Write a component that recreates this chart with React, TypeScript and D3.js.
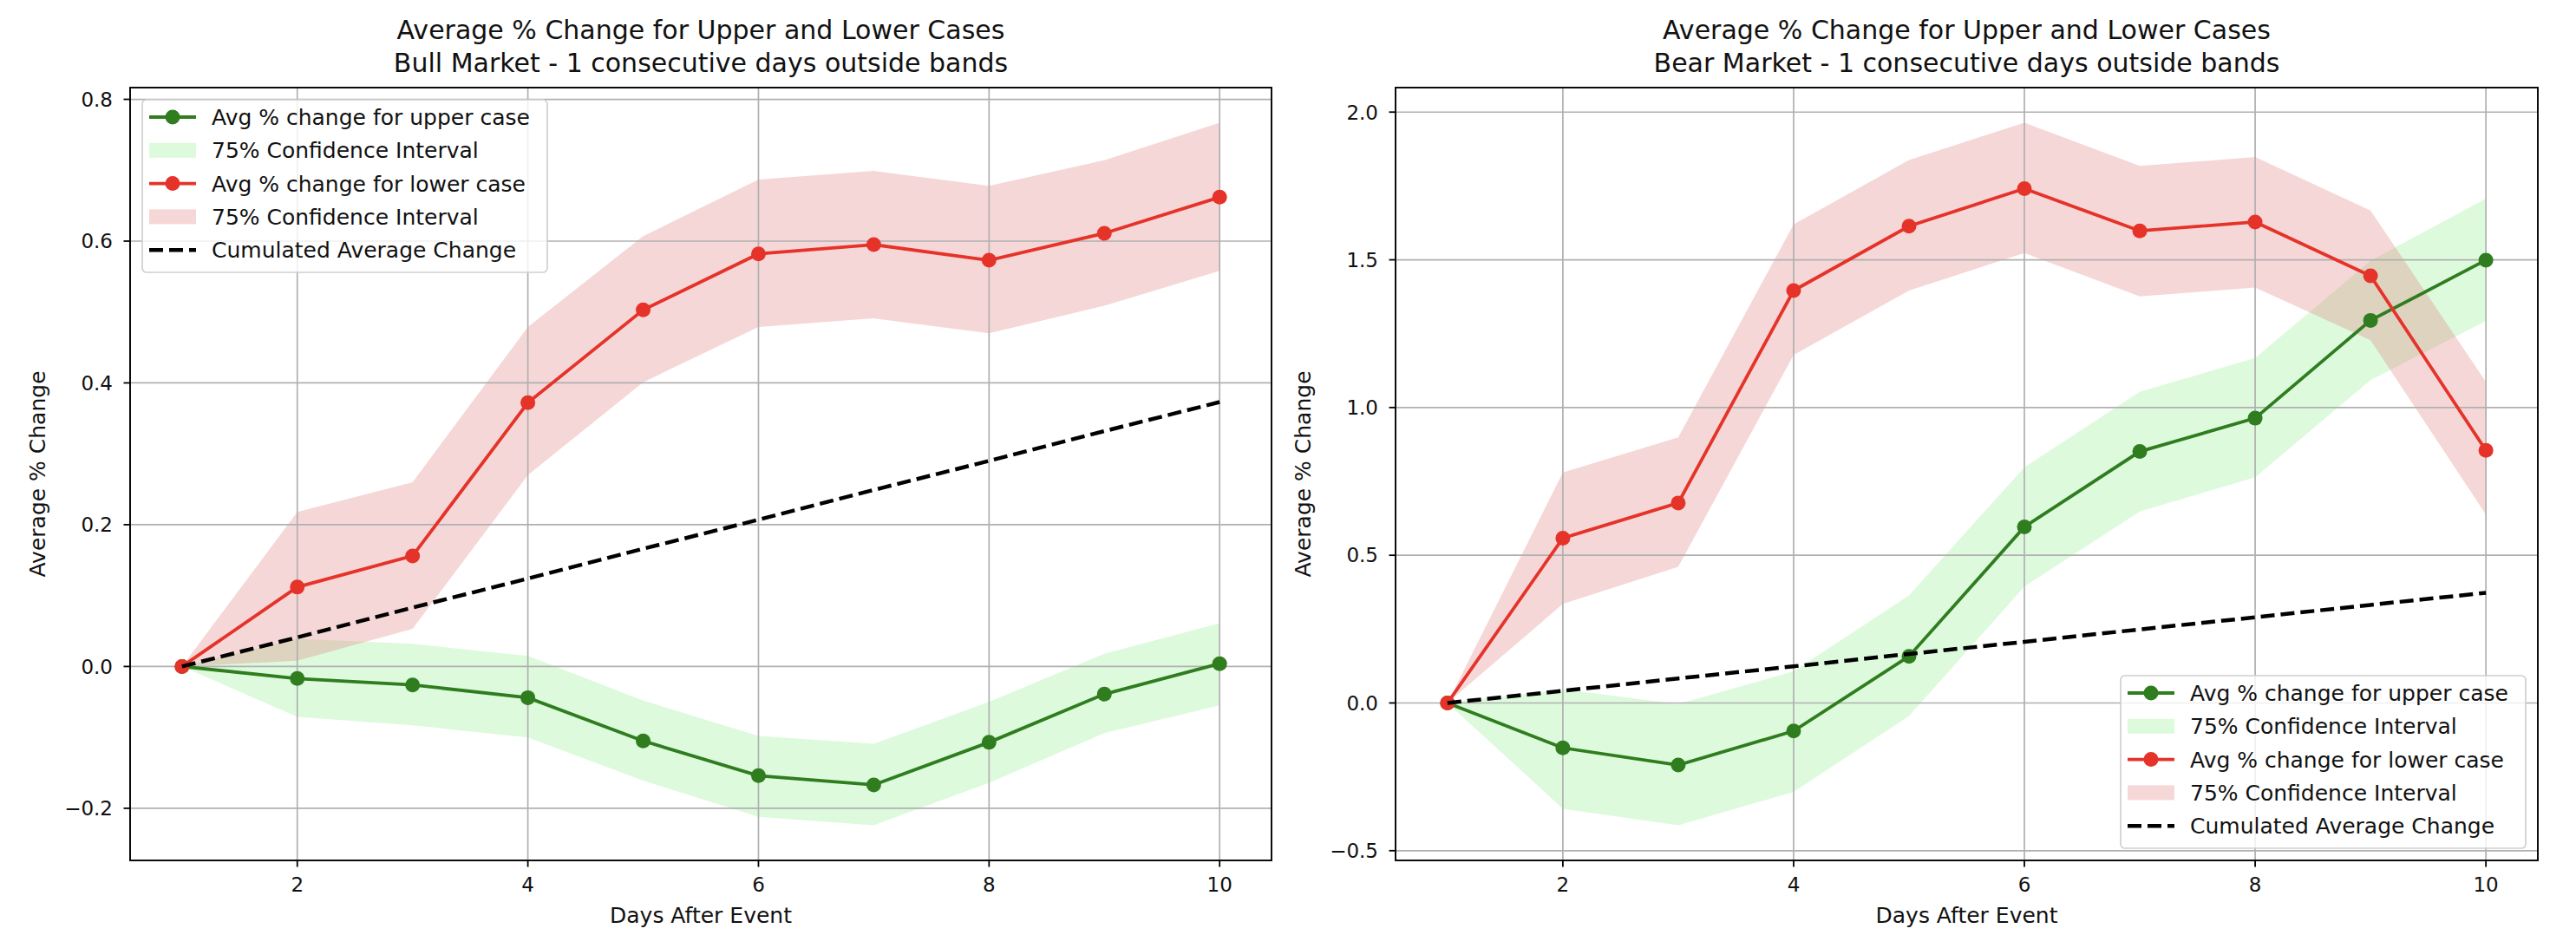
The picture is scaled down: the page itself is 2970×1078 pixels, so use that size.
import { useEffect, useRef } from "react";
import * as d3 from "d3";

// days after the event
const days = [1, 2, 3, 4, 5, 6, 7, 8, 9, 10];

// Bull market
const bullUpperMean = [0, -0.017, -0.026, -0.044, -0.105, -0.154, -0.167, -0.107, -0.039, 0.004];
const bullUpperLo = [0, -0.071, -0.083, -0.1, -0.161, -0.212, -0.224, -0.164, -0.094, -0.055];
const bullUpperHi = [0, 0.039, 0.032, 0.015, -0.048, -0.098, -0.109, -0.05, 0.018, 0.061];
const bullLowerMean = [0, 0.112, 0.156, 0.372, 0.503, 0.582, 0.595, 0.573, 0.611, 0.662];
const bullLowerLo = [0, 0.008, 0.053, 0.27, 0.401, 0.479, 0.491, 0.47, 0.509, 0.558];
const bullLowerHi = [0, 0.218, 0.26, 0.479, 0.607, 0.687, 0.699, 0.678, 0.714, 0.767];

// Bear market
const bearUpperMean = [0, -0.152, -0.21, -0.095, 0.158, 0.596, 0.851, 0.964, 1.295, 1.499];
const bearUpperLo = [0, -0.358, -0.414, -0.301, -0.044, 0.394, 0.648, 0.764, 1.093, 1.293];
const bearUpperHi = [0, 0.046, -0.004, 0.107, 0.364, 0.798, 1.053, 1.168, 1.497, 1.707];
const bearLowerMean = [0, 0.558, 0.677, 1.396, 1.614, 1.741, 1.598, 1.628, 1.446, 0.855];
const bearLowerLo = [0, 0.335, 0.461, 1.178, 1.396, 1.523, 1.376, 1.406, 1.228, 0.638];
const bearLowerHi = [0, 0.78, 0.899, 1.62, 1.838, 1.964, 1.818, 1.848, 1.667, 1.087];

// same reference line on both panels
const cumAvg = [0, 0.041, 0.083, 0.124, 0.166, 0.207, 0.249, 0.29, 0.332, 0.373];

const dayTicks = [2, 4, 6, 8, 10];
const bullTicks = [-0.2, 0, 0.2, 0.4, 0.6, 0.8];
const bearTicks = [-0.5, 0, 0.5, 1, 1.5, 2];

const legendLabels = [
  "Avg % change for upper case",
  "75% Confidence Interval",
  "Avg % change for lower case",
  "75% Confidence Interval",
  "Cumulated Average Change",
];

const GREEN = "#2f7d1f";
const RED = "#e5332a";
const GREEN_FILL = "#90ee90";
const RED_FILL = "#e07b7b";
const FONT = "DejaVu Sans";
const INK = "#111";

type Panel = {
  left: number;
  right: number;
  top: number;
  bottom: number;
  title: string[];
  upper: number[][];
  lower: number[][];
  yTicks: number[];
  legendAt: "ul" | "lr";
};

function drawPanel(svg: d3.Selection<SVGSVGElement, unknown, null, undefined>, p: Panel) {
  const g = svg.append("g");
  const all = [...p.upper.flat(), ...p.lower.flat(), ...cumAvg];
  const [mn, mx] = d3.extent(all) as [number, number];
  const pad = (mx - mn) * 0.05;
  const x = d3.scaleLinear().domain([0.55, 10.45]).range([p.left, p.right]);
  const y = d3.scaleLinear().domain([mn - pad, mx + pad]).range([p.bottom, p.top]);

  const clipId = `clip-${p.left}`;
  g.append("clipPath").attr("id", clipId)
    .append("rect").attr("x", p.left).attr("y", p.top)
    .attr("width", p.right - p.left).attr("height", p.bottom - p.top);
  const plot = g.append("g").attr("clip-path", `url(#${clipId})`);

  const area = (lo: number[], hi: number[]) =>
    d3.area<number>().x((d) => x(d)).y0((_, i) => y(lo[i])).y1((_, i) => y(hi[i]))(days);

  // bands
  plot.append("path").attr("d", area(p.upper[1], p.upper[2])!)
    .attr("fill", GREEN_FILL).attr("fill-opacity", 0.3);
  plot.append("path").attr("d", area(p.lower[1], p.lower[2])!)
    .attr("fill", RED_FILL).attr("fill-opacity", 0.3);

  // grid
  plot.selectAll(".gx").data(dayTicks).join("line")
    .attr("x1", (d) => x(d)).attr("x2", (d) => x(d))
    .attr("y1", p.top).attr("y2", p.bottom)
    .attr("stroke", "#b0b0b0").attr("stroke-width", 1.7);
  plot.selectAll(".gy").data(p.yTicks).join("line")
    .attr("y1", (d) => y(d)).attr("y2", (d) => y(d))
    .attr("x1", p.left).attr("x2", p.right)
    .attr("stroke", "#b0b0b0").attr("stroke-width", 1.7);

  const line = (vals: number[]) =>
    d3.line<number>().x((d) => x(d)).y((_, i) => y(vals[i]))(days);

  const series = (vals: number[], color: string) => {
    plot.append("path").attr("d", line(vals)!).attr("fill", "none")
      .attr("stroke", color).attr("stroke-width", 3.8);
    plot.selectAll(null).data(days).join("circle")
      .attr("cx", (d) => x(d)).attr("cy", (_, i) => y(vals[i]))
      .attr("r", 8.5).attr("fill", color);
  };
  series(p.upper[0], GREEN);
  series(p.lower[0], RED);

  plot.append("path").attr("d", line(cumAvg)!).attr("fill", "none")
    .attr("stroke", "#000").attr("stroke-width", 4.5)
    .attr("stroke-dasharray", "16,7");

  // spines
  g.append("rect").attr("x", p.left).attr("y", p.top)
    .attr("width", p.right - p.left).attr("height", p.bottom - p.top)
    .attr("fill", "none").attr("stroke", "#000").attr("stroke-width", 1.9);

  // ticks
  g.selectAll(".tx").data(dayTicks).join("line")
    .attr("x1", (d) => x(d)).attr("x2", (d) => x(d))
    .attr("y1", p.bottom).attr("y2", p.bottom + 7.5)
    .attr("stroke", "#000").attr("stroke-width", 1.8);
  g.selectAll(".txl").data(dayTicks).join("text")
    .attr("x", (d) => x(d)).attr("y", p.bottom + 36)
    .attr("text-anchor", "middle").attr("font-family", FONT).attr("font-size", 23)
    .attr("fill", INK).text((d) => String(d));
  g.selectAll(".ty").data(p.yTicks).join("line")
    .attr("y1", (d) => y(d)).attr("y2", (d) => y(d))
    .attr("x1", p.left - 7.5).attr("x2", p.left)
    .attr("stroke", "#000").attr("stroke-width", 1.8);
  g.selectAll(".tyl").data(p.yTicks).join("text")
    .attr("x", p.left - 20).attr("y", (d) => y(d)).attr("dy", "0.36em")
    .attr("text-anchor", "end").attr("font-family", FONT).attr("font-size", 23)
    .attr("fill", INK).text((d) => d3.format(".1f")(d).replace("-", "\u2212"));

  // labels
  const cx = (p.left + p.right) / 2;
  g.append("text").attr("x", cx).attr("y", p.bottom + 72)
    .attr("text-anchor", "middle").attr("font-family", FONT).attr("font-size", 25)
    .attr("fill", INK).text("Days After Event");
  const cy = (p.top + p.bottom) / 2;
  g.append("text")
    .attr("transform", `translate(${p.left - 107},${cy}) rotate(-90)`)
    .attr("text-anchor", "middle").attr("dominant-baseline", "central")
    .attr("font-family", FONT).attr("font-size", 25).attr("fill", INK)
    .text("Average % Change");
  p.title.forEach((t, i) => {
    g.append("text").attr("x", cx).attr("y", 45 + i * 38)
      .attr("text-anchor", "middle").attr("font-family", FONT).attr("font-size", 30)
      .attr("fill", INK).text(t);
  });

  // legend
  const lw = 467;
  const lh = 199;
  const lx = p.legendAt === "ul" ? p.left + 14 : p.right - 14 - lw;
  const ly = p.legendAt === "ul" ? p.top + 14 : p.bottom - 14 - lh;
  const lg = g.append("g").attr("transform", `translate(${lx},${ly})`);
  lg.append("rect").attr("width", lw).attr("height", lh).attr("rx", 5)
    .attr("fill", "#fff").attr("fill-opacity", 0.8)
    .attr("stroke", "#d0d0d0").attr("stroke-width", 1.7);
  legendLabels.forEach((lab, i) => {
    const ry = 20 + i * 38.3;
    const h0 = 8;
    const h1 = 62;
    if (i === 0 || i === 2) {
      const c = i === 0 ? GREEN : RED;
      lg.append("line").attr("x1", h0).attr("x2", h1).attr("y1", ry).attr("y2", ry)
        .attr("stroke", c).attr("stroke-width", 3.8);
      lg.append("circle").attr("cx", (h0 + h1) / 2).attr("cy", ry).attr("r", 8.5).attr("fill", c);
    } else if (i === 1 || i === 3) {
      lg.append("rect").attr("x", h0).attr("y", ry - 8.5).attr("width", h1 - h0).attr("height", 17)
        .attr("fill", i === 1 ? GREEN_FILL : RED_FILL).attr("fill-opacity", 0.3);
    } else {
      lg.append("line").attr("x1", h0).attr("x2", h1).attr("y1", ry).attr("y2", ry)
        .attr("stroke", "#000").attr("stroke-width", 4.5).attr("stroke-dasharray", "16,7");
    }
    lg.append("text").attr("x", 80).attr("y", ry).attr("dy", "0.36em")
      .attr("font-family", FONT).attr("font-size", 25).attr("fill", INK).text(lab);
  });
}

export default function App() {
  const svgRef = useRef<SVGSVGElement>(null);

  useEffect(() => {
    if (!svgRef.current) return;
    const svg = d3.select(svgRef.current);
    svg.selectAll("*").remove();

    drawPanel(svg, {
      left: 150, right: 1466, top: 101, bottom: 992,
      title: ["Average % Change for Upper and Lower Cases", "Bull Market - 1 consecutive days outside bands"],
      upper: [bullUpperMean, bullUpperLo, bullUpperHi],
      lower: [bullLowerMean, bullLowerLo, bullLowerHi],
      yTicks: bullTicks,
      legendAt: "ul",
    });
    drawPanel(svg, {
      left: 1609, right: 2926, top: 101, bottom: 992,
      title: ["Average % Change for Upper and Lower Cases", "Bear Market - 1 consecutive days outside bands"],
      upper: [bearUpperMean, bearUpperLo, bearUpperHi],
      lower: [bearLowerMean, bearLowerLo, bearLowerHi],
      yTicks: bearTicks,
      legendAt: "lr",
    });
  }, []);

  return (
    <svg
      ref={svgRef}
      width={2970}
      height={1078}
      style={{ position: "absolute", left: 0, top: 0, background: "#fff" }}
    />
  );
}
